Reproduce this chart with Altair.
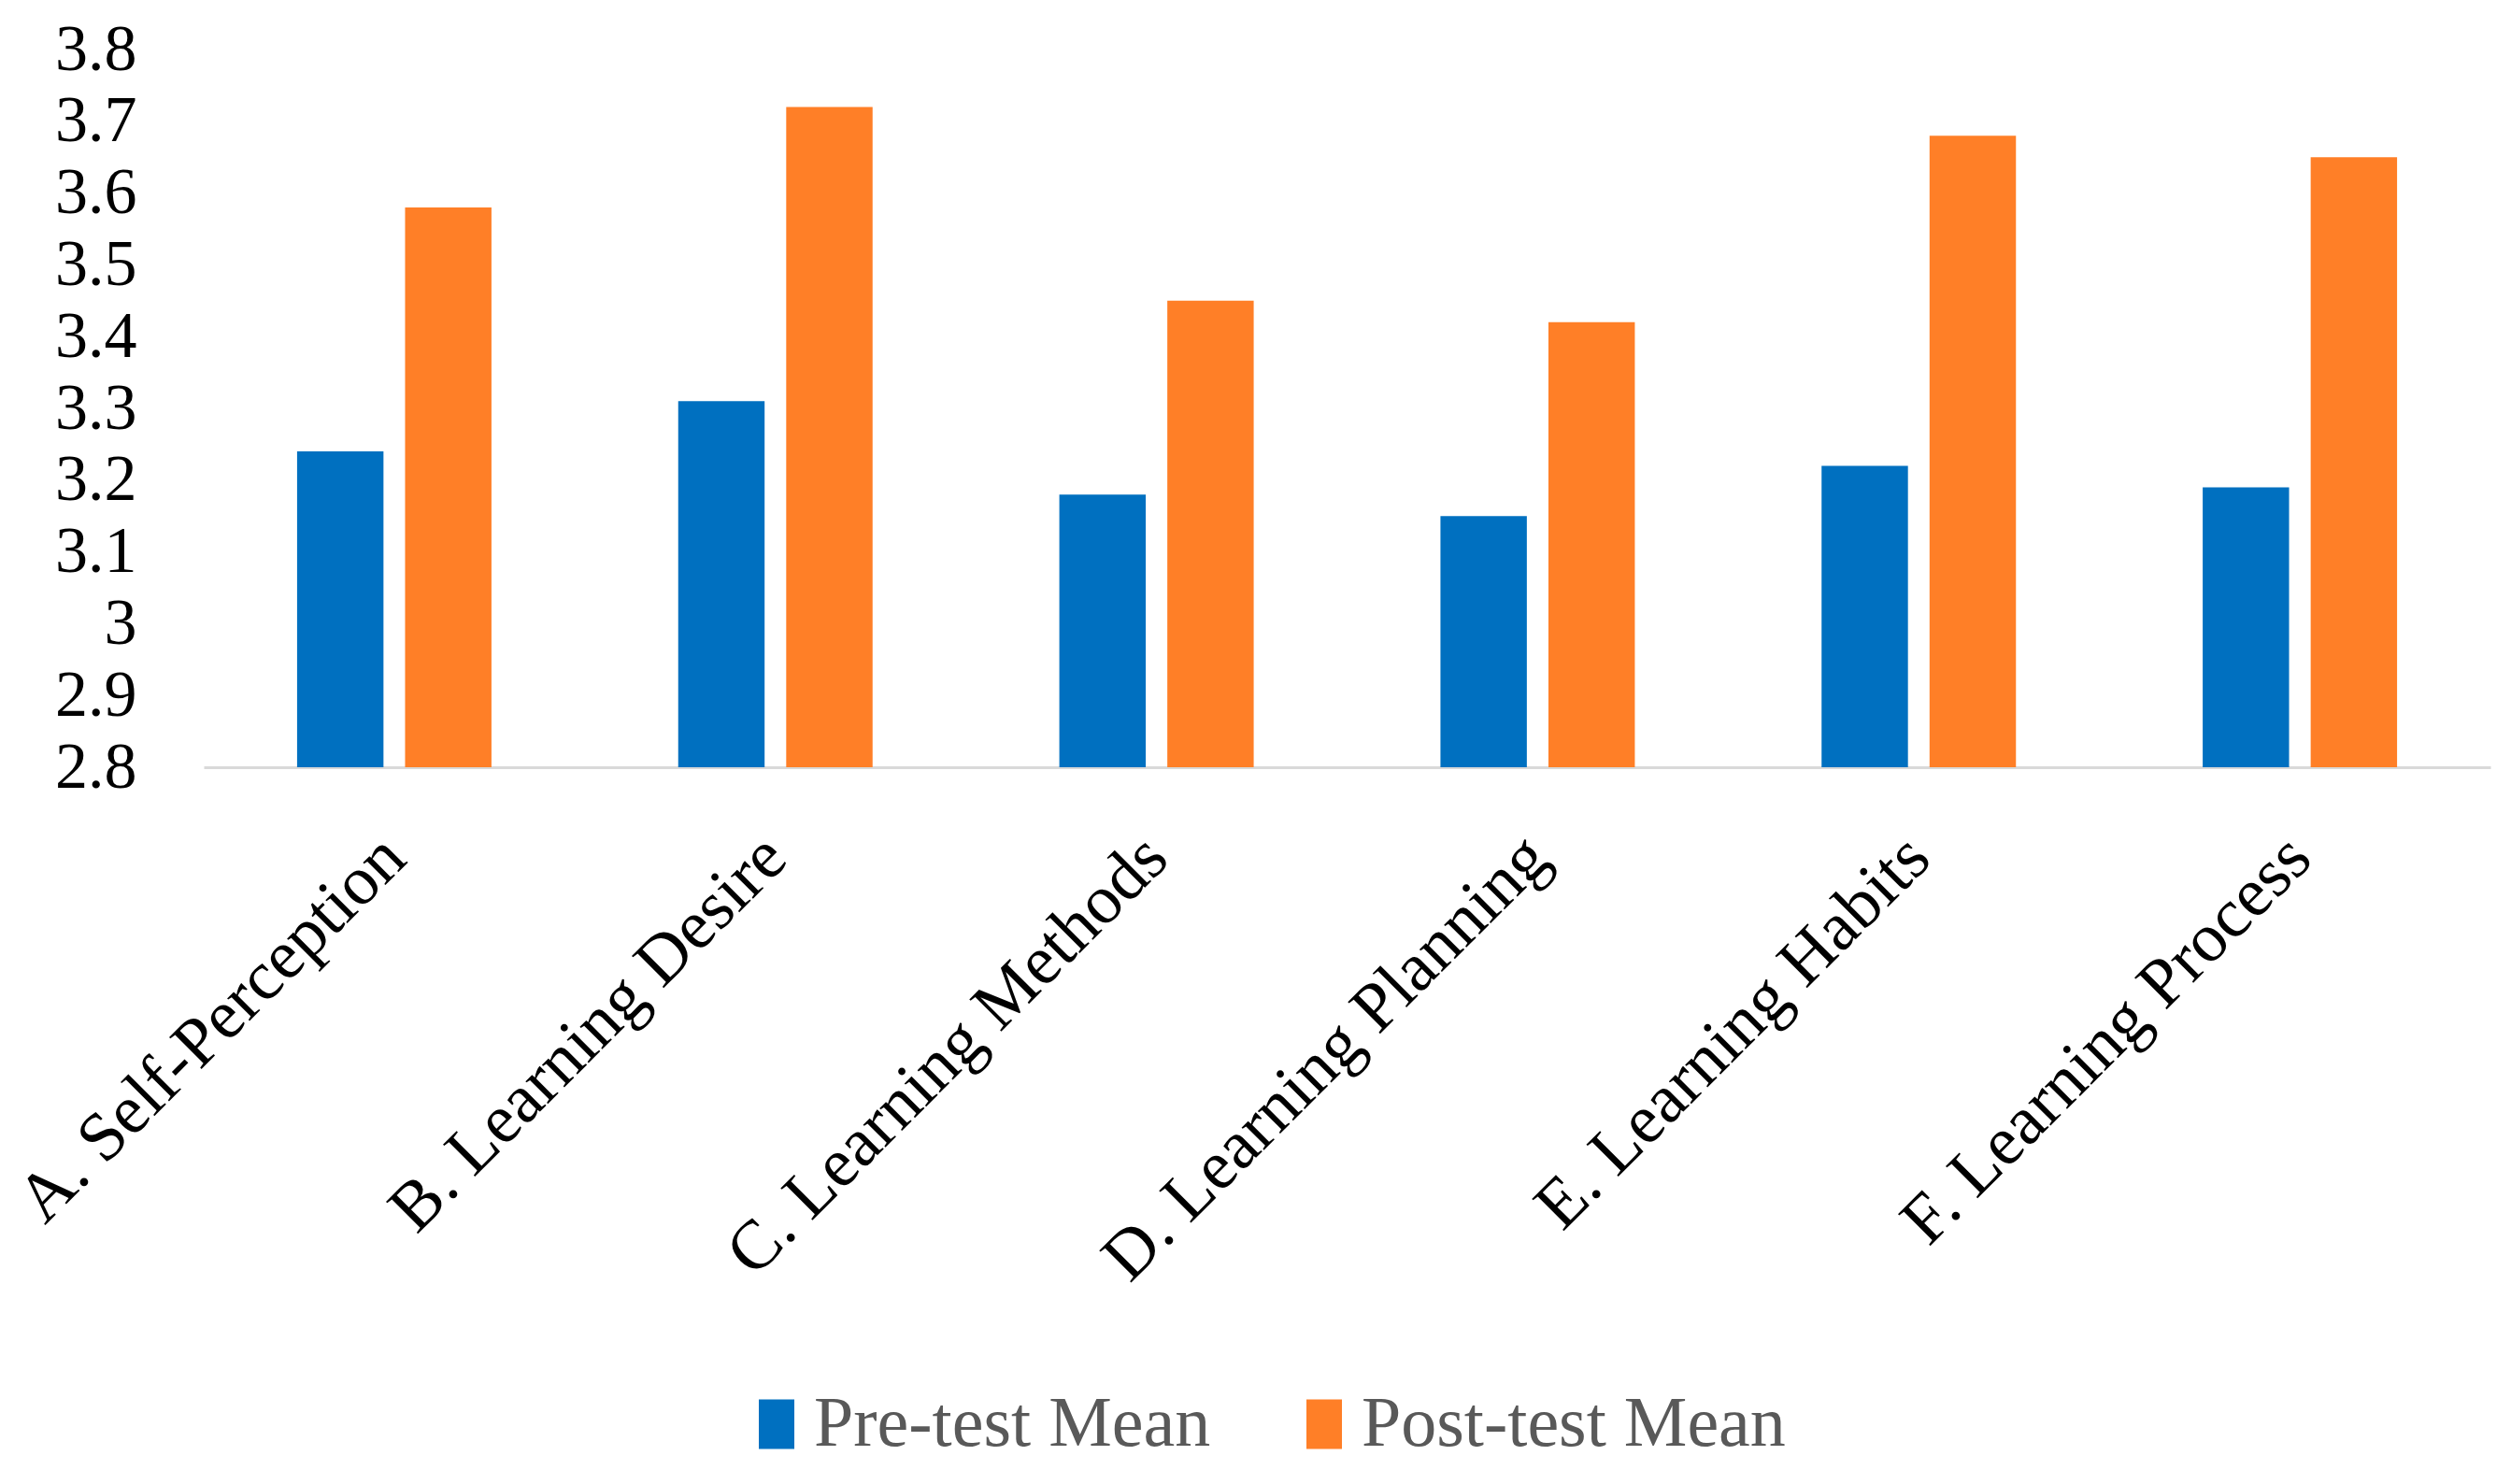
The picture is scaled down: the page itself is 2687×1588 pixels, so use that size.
import altair as alt
import pandas as pd

categories = ["A. Self-Perception", "B. Learning Desire", "C. Learning Methods",
              "D. Learning Planning", "E. Learning Habits", "F. Learning Process"]
pre_values = [3.24, 3.31, 3.18, 3.15, 3.22, 3.19]
post_values = [3.58, 3.72, 3.45, 3.42, 3.68, 3.65]
series = ["Pre-test Mean", "Post-test Mean"]
colors = ["#0070C0", "#FF7F27"]
y_ticks = [2.8, 2.9, 3.0, 3.1, 3.2, 3.3, 3.4, 3.5, 3.6, 3.7, 3.8]

rows = []
for c, a, b in zip(categories, pre_values, post_values):
    rows.append({"category": c, "series": series[0], "value": a})
    rows.append({"category": c, "series": series[1], "value": b})
df = pd.DataFrame(rows)

FONT = "Liberation Serif"

chart = alt.Chart(df).mark_bar(clip=True).encode(
    x=alt.X("category:N", sort=categories, title=None,
            scale=alt.Scale(paddingInner=0.49, paddingOuter=0.245),
            axis=alt.Axis(labelAngle=-45, labelAlign="right", labelBaseline="middle",
                          labelFont=FONT, labelFontSize=74, labelColor="#000000",
                          labelPadding=85, ticks=False, domainColor="#D9D9D9",
                          domainWidth=3, labelLimit=1000)),
    xOffset=alt.XOffset("series:N", sort=series,
                        scale=alt.Scale(paddingInner=0.2)),
    y=alt.Y("value:Q", title=None,
            scale=alt.Scale(domain=[y_ticks[0], y_ticks[-1]], zero=False, nice=False),
            axis=alt.Axis(values=y_ticks, format=".1~f", domain=False, ticks=False,
                          grid=False, labelFont=FONT, labelFontSize=70,
                          labelColor="#000000", labelPadding=72)),
    y2=alt.datum(y_ticks[0]),
    color=alt.Color("series:N", sort=series, title=None,
                    scale=alt.Scale(domain=series, range=colors),
                    legend=alt.Legend(orient="none", direction="horizontal",
                                      legendX=575, legendY=1433,
                                      labelFont=FONT, labelFontSize=76,
                                      labelColor="#595959",
                                      symbolType="M-1,-1.4H1V1.4H-1Z",
                                      symbolSize=1444, symbolStrokeWidth=0,
                                      labelOffset=2, columnPadding=83,
                                      labelLimit=1000)),
).properties(
    width=2447, height=768,
    autosize=alt.AutoSizeParams(type="none"),
    padding={"left": 210, "top": 45, "right": 10, "bottom": 760},
).configure_view(stroke=None)

chart.save("out.html", embed_options={"renderer": "svg", "actions": False})
